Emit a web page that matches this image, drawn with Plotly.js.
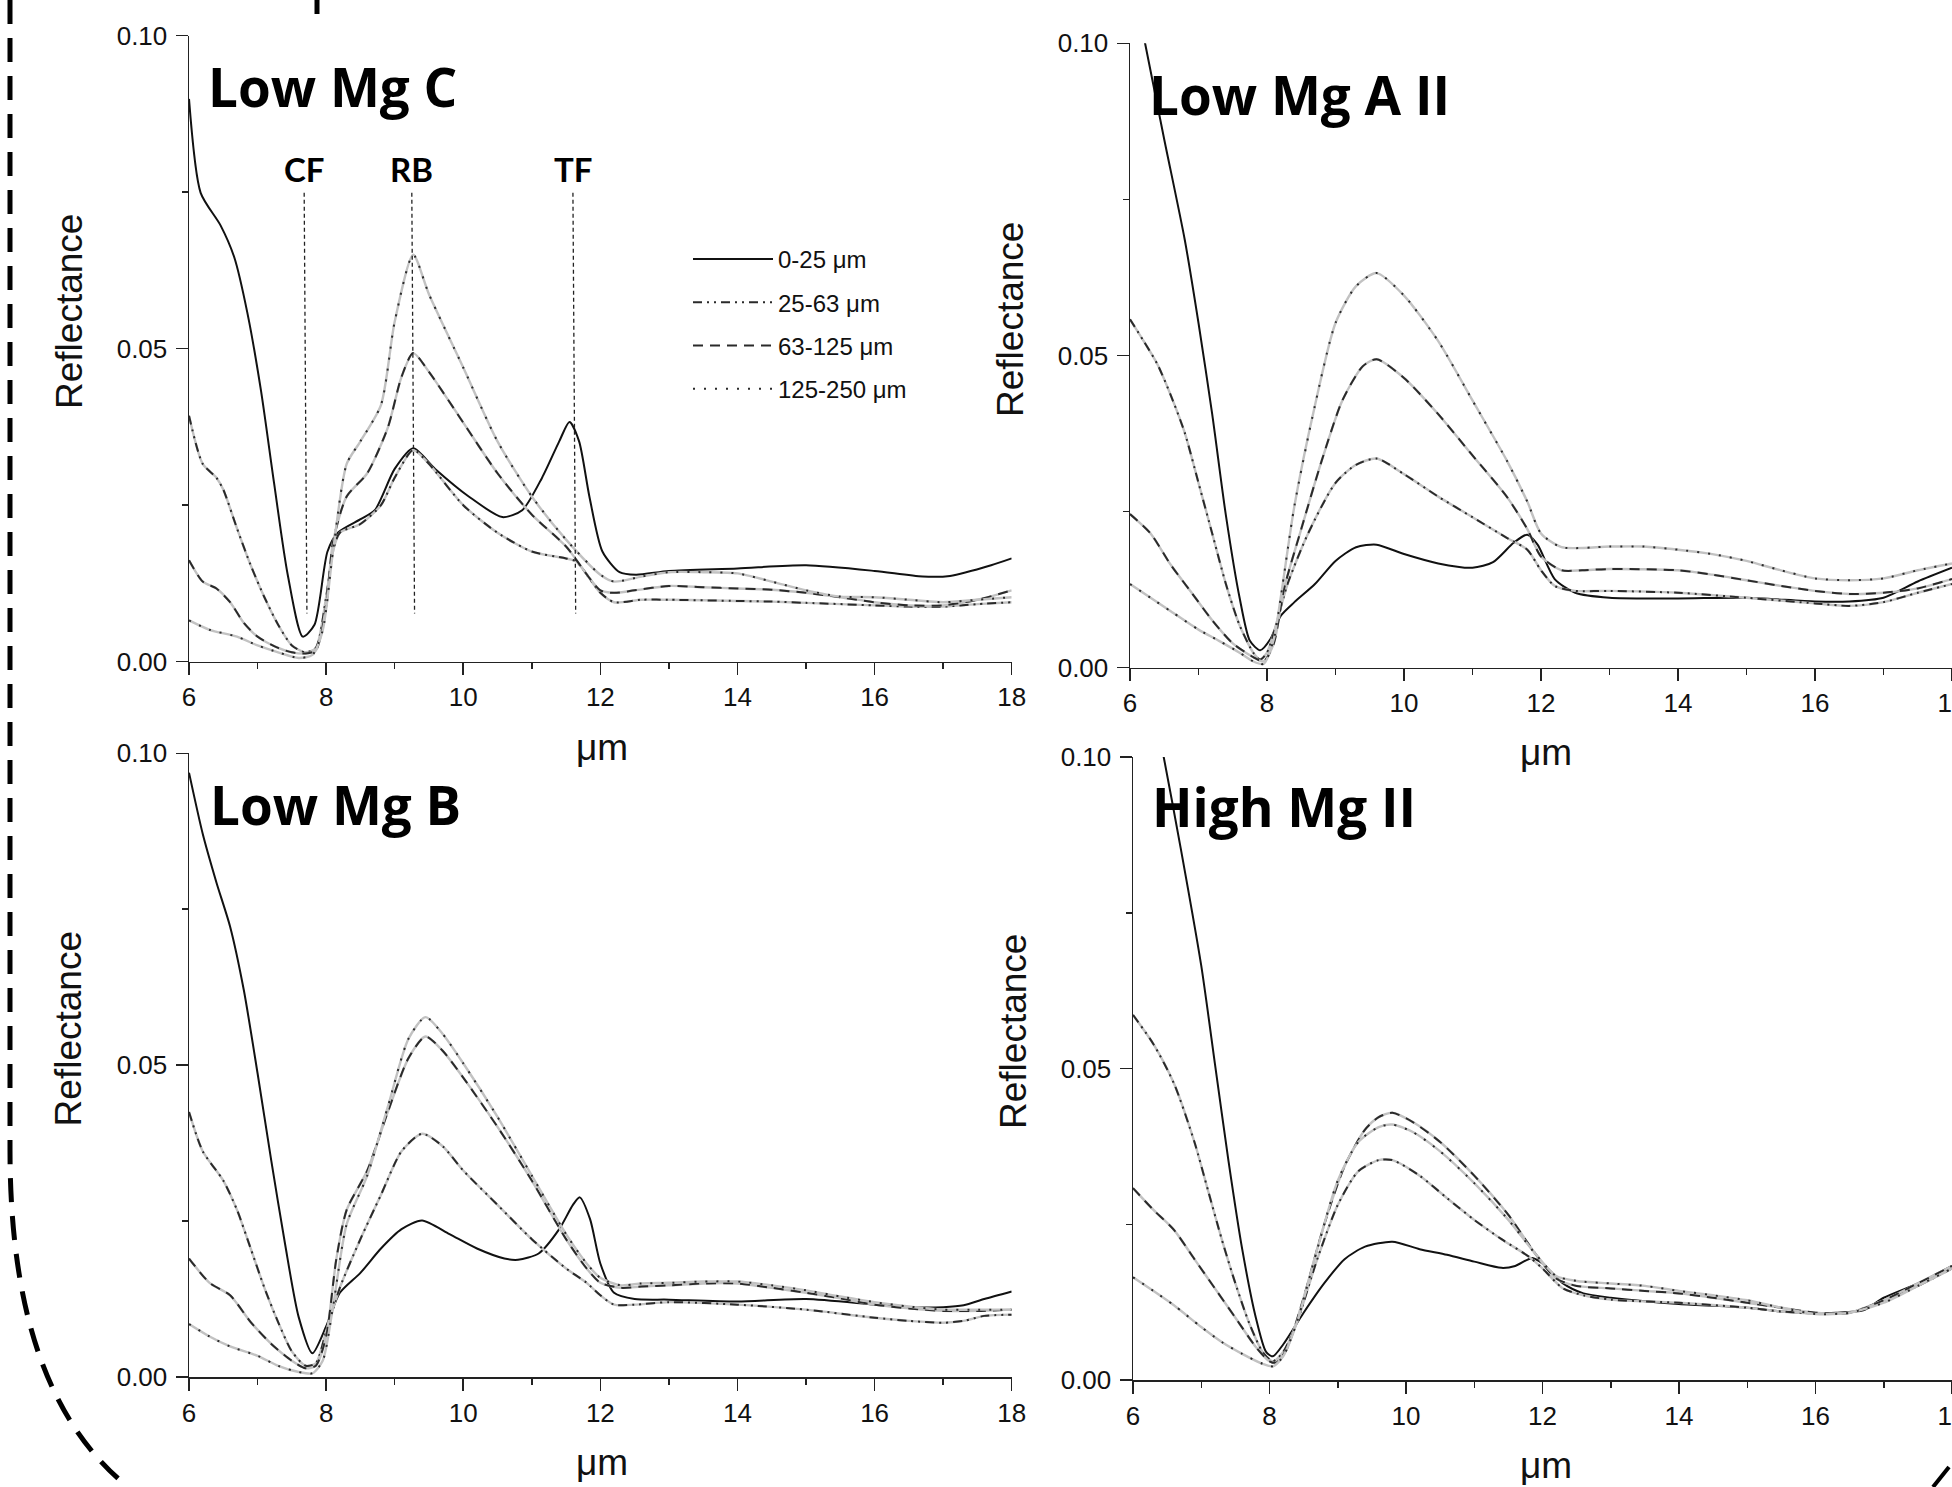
<!DOCTYPE html>
<html>
<head>
<meta charset="utf-8">
<script src="https://cdn.plot.ly/plotly-3.0.1.min.js"></script>
<style>html,body{margin:0;padding:0;background:#fff;}#chart{width:1952px;height:1487px;}</style>
</head>
<body>
<div id="chart"></div>
<script>
// ---------- DATA ----------
const seriesNames = ['0-25 μm', '25-63 μm', '63-125 μm', '125-250 μm'];
const panelTitles = ['Low Mg C', 'Low Mg A II', 'Low Mg B', 'High Mg II'];
const featureLabels = ['CF', 'RB', 'TF'];
const featureX = [7.68, 9.25, 11.6];
const featureTop = 0.0749;
const featureBottom = 0.0077;
const featureLabelY = 0.0787;

// Low Mg C
const cX0 = [6, 6.17, 6.46, 6.66, 6.85, 7.05, 7.24, 7.44, 7.66, 7.83, 8.02, 8.17, 8.51, 8.71, 9.0, 9.27, 9.59, 10.08, 10.57, 10.86, 11.15, 11.4, 11.55, 11.69, 11.84, 12.03, 12.28, 12.52, 13.0, 14.0, 15.0, 16.0, 16.7, 17.1, 17.7, 18];
const cY0 = [0.0899, 0.0749, 0.0697, 0.0646, 0.0558, 0.0433, 0.0286, 0.0139, 0.0040, 0.0059, 0.0176, 0.0206, 0.0228, 0.0242, 0.0308, 0.0341, 0.0308, 0.0264, 0.0231, 0.0242, 0.0294, 0.0352, 0.0383, 0.0352, 0.0264, 0.0176, 0.0143, 0.0139, 0.0145, 0.0149, 0.0154, 0.0145, 0.0136, 0.0137, 0.0154, 0.0165];
const cX1 = [6, 6.2, 6.4, 6.5, 6.7, 6.9, 7.1, 7.3, 7.5, 7.7, 7.85, 8.0, 8.1, 8.2, 8.5, 8.8, 9.0, 9.27, 9.5, 10.0, 10.5, 11.0, 11.5, 11.65, 12.0, 12.2, 12.6, 13.0, 14.0, 14.5, 15.0, 16.0, 16.5, 17.0, 17.5, 18.0];
const cY1 = [0.0393, 0.0316, 0.0294, 0.0275, 0.0213, 0.0154, 0.0103, 0.0059, 0.0026, 0.0015, 0.0022, 0.0103, 0.0176, 0.0206, 0.0220, 0.0250, 0.0294, 0.0338, 0.0316, 0.0250, 0.0206, 0.0176, 0.0165, 0.0160, 0.0110, 0.0095, 0.0099, 0.0099, 0.0097, 0.0096, 0.0094, 0.0090, 0.0088, 0.0088, 0.0092, 0.0095];
const cX2 = [6, 6.2, 6.4, 6.6, 6.8, 7.0, 7.3, 7.5, 7.7, 7.85, 8.0, 8.1, 8.3, 8.6, 8.9, 9.1, 9.27, 9.5, 10.0, 10.5, 11.0, 11.5, 12.0, 12.2, 12.5, 13.0, 13.5, 14.0, 14.5, 15.0, 15.5, 16.0, 16.5, 17.0, 17.5, 18.0];
const cY2 = [0.0162, 0.0128, 0.0117, 0.0095, 0.0062, 0.0040, 0.0022, 0.0015, 0.0013, 0.0018, 0.0088, 0.0191, 0.0264, 0.0301, 0.0374, 0.0455, 0.0493, 0.0463, 0.0382, 0.0301, 0.0235, 0.0184, 0.0114, 0.0110, 0.0114, 0.0121, 0.0119, 0.0117, 0.0115, 0.0110, 0.0103, 0.0095, 0.0090, 0.0090, 0.0099, 0.0114];
const cX3 = [6, 6.3, 6.7, 7.0, 7.3, 7.6, 7.8, 7.95, 8.1, 8.3, 8.5, 8.8, 9.0, 9.27, 9.5, 10.0, 10.5, 11.0, 11.5, 12.0, 12.2, 12.6, 13.0, 13.5, 14.0, 14.5, 15.0, 15.5, 16.0, 16.5, 17.0, 17.5, 18.0];
const cY3 = [0.0066, 0.0051, 0.0040, 0.0026, 0.0015, 0.0006, 0.0011, 0.0050, 0.0176, 0.0316, 0.0352, 0.0410, 0.0543, 0.0650, 0.0587, 0.0470, 0.0352, 0.0264, 0.0195, 0.0139, 0.0128, 0.0136, 0.0143, 0.0143, 0.0141, 0.0128, 0.0114, 0.0104, 0.0103, 0.0099, 0.0095, 0.0099, 0.0103];

// Low Mg A II
const aX0 = [6.0, 6.22, 6.5, 6.8, 7.0, 7.2, 7.4, 7.6, 7.75, 7.9, 8.05, 8.2, 8.4, 8.7, 9.0, 9.3, 9.6, 10.0, 10.5, 11.0, 11.3, 11.6, 11.8, 11.95, 12.2, 12.5, 13.0, 14.0, 15.0, 16.0, 16.5, 17.0, 17.5, 18.0];
const aY0 = [0.112, 0.1000, 0.0846, 0.0685, 0.0552, 0.0406, 0.0244, 0.0112, 0.0043, 0.0028, 0.0046, 0.0083, 0.0105, 0.0134, 0.0171, 0.0193, 0.0197, 0.0182, 0.0167, 0.0160, 0.0169, 0.0200, 0.0213, 0.0197, 0.0142, 0.0120, 0.0112, 0.0111, 0.0112, 0.0106, 0.0106, 0.0112, 0.0138, 0.0160];
const aX1 = [6.0, 6.2, 6.4, 6.6, 6.8, 7.0, 7.2, 7.4, 7.6, 7.8, 7.9, 8.0, 8.15, 8.3, 8.6, 9.0, 9.3, 9.6, 10.0, 10.5, 11.0, 11.5, 11.8, 12.0, 12.2, 12.5, 13.0, 14.0, 15.0, 16.0, 16.5, 17.0, 17.5, 18.0];
const aY1 = [0.0558, 0.0523, 0.0486, 0.0435, 0.0376, 0.0296, 0.0215, 0.0134, 0.0068, 0.0024, 0.0013, 0.0024, 0.0076, 0.0134, 0.0215, 0.0296, 0.0325, 0.0335, 0.0310, 0.0274, 0.0241, 0.0208, 0.0189, 0.0156, 0.0131, 0.0123, 0.0123, 0.0120, 0.0112, 0.0103, 0.0099, 0.0105, 0.0120, 0.0134];
const aX2 = [6.0, 6.3, 6.6, 6.9, 7.2, 7.5, 7.8, 7.95, 8.1, 8.25, 8.5, 8.8, 9.1, 9.4, 9.6, 10.0, 10.5, 11.0, 11.5, 11.8, 12.0, 12.3, 12.6, 13.0, 14.0, 14.5, 15.0, 15.5, 16.0, 16.5, 17.0, 17.5, 18.0];
const aY2 = [0.0246, 0.0215, 0.0164, 0.0120, 0.0076, 0.0039, 0.0017, 0.0010, 0.0039, 0.0127, 0.0222, 0.0332, 0.0428, 0.0483, 0.0494, 0.0464, 0.0406, 0.0340, 0.0274, 0.0222, 0.0178, 0.0156, 0.0156, 0.0158, 0.0156, 0.0149, 0.0140, 0.0131, 0.0123, 0.0118, 0.0120, 0.0127, 0.0142];
const aX3 = [6.0, 6.3, 6.6, 7.0, 7.3, 7.6, 7.8, 7.95, 8.1, 8.2, 8.4, 8.7, 9.0, 9.3, 9.6, 10.0, 10.5, 11.0, 11.5, 11.8, 12.0, 12.3, 13.0, 13.5, 14.0, 14.5, 15.0, 15.5, 16.0, 16.5, 17.0, 17.5, 18.0];
const aY3 = [0.0134, 0.0112, 0.0090, 0.0061, 0.0043, 0.0024, 0.0010, 0.0006, 0.0046, 0.0112, 0.0259, 0.0420, 0.0552, 0.0611, 0.0632, 0.0596, 0.0523, 0.0428, 0.0332, 0.0266, 0.0215, 0.0193, 0.0194, 0.0194, 0.0189, 0.0182, 0.0171, 0.0156, 0.0143, 0.0140, 0.0143, 0.0156, 0.0167];

// Low Mg B
const bX0 = [6.0, 6.2, 6.4, 6.6, 6.8, 7.0, 7.2, 7.4, 7.6, 7.8, 8.0, 8.2, 8.5, 8.8, 9.1, 9.4, 9.8, 10.2, 10.6, 10.8, 11.1, 11.4, 11.6, 11.7, 11.85, 12.0, 12.2, 12.5, 13.0, 14.0, 15.0, 16.0, 16.5, 17.0, 17.3, 17.6, 18.0];
const bY0 = [0.0969, 0.0871, 0.0793, 0.0722, 0.0620, 0.0487, 0.0347, 0.0214, 0.0096, 0.0038, 0.0081, 0.0135, 0.0167, 0.0206, 0.0237, 0.0251, 0.0229, 0.0206, 0.0190, 0.0188, 0.0198, 0.0237, 0.0276, 0.0288, 0.0253, 0.0182, 0.0135, 0.0125, 0.0124, 0.0121, 0.0125, 0.0116, 0.0112, 0.0112, 0.0115, 0.0125, 0.0137];
const bX1 = [6.0, 6.2, 6.5, 6.7, 6.9, 7.1, 7.3, 7.5, 7.7, 7.85, 8.0, 8.2, 8.5, 8.8, 9.1, 9.4, 9.7, 10.0, 10.5, 11.0, 11.5, 11.8, 12.0, 12.2, 12.5, 13.0, 14.0, 15.0, 16.0, 16.5, 17.0, 17.3, 17.6, 18.0];
const bY1 = [0.0425, 0.0362, 0.0315, 0.0268, 0.0206, 0.0143, 0.0088, 0.0041, 0.0018, 0.0022, 0.0073, 0.0143, 0.0221, 0.0292, 0.0362, 0.0390, 0.0370, 0.0331, 0.0276, 0.0221, 0.0174, 0.0151, 0.0131, 0.0116, 0.0116, 0.0120, 0.0116, 0.0108, 0.0095, 0.0090, 0.0087, 0.0090, 0.0098, 0.0100];
const bX2 = [6.0, 6.3, 6.6, 6.9, 7.2, 7.5, 7.7, 7.85, 8.0, 8.15, 8.3, 8.6, 8.9, 9.2, 9.45, 9.7, 10.0, 10.5, 11.0, 11.5, 11.8, 12.0, 12.3, 12.6, 13.0, 13.5, 14.0, 14.5, 15.0, 15.5, 16.0, 16.5, 17.0, 17.5, 18.0];
const bY2 = [0.0190, 0.0151, 0.0131, 0.0088, 0.0053, 0.0026, 0.0014, 0.0018, 0.0065, 0.0190, 0.0268, 0.0331, 0.0425, 0.0511, 0.0546, 0.0523, 0.0480, 0.0401, 0.0315, 0.0221, 0.0174, 0.0151, 0.0143, 0.0145, 0.0147, 0.0150, 0.0150, 0.0143, 0.0135, 0.0126, 0.0116, 0.0110, 0.0106, 0.0106, 0.0108];
const bX3 = [6.0, 6.3, 6.6, 7.0, 7.3, 7.6, 7.8, 7.95, 8.1, 8.3, 8.6, 8.9, 9.2, 9.45, 9.7, 10.0, 10.5, 11.0, 11.5, 11.8, 12.0, 12.3, 12.6, 13.0, 13.5, 14.0, 14.5, 15.0, 15.5, 16.0, 16.5, 17.0, 17.5, 18.0];
const bY3 = [0.0085, 0.0065, 0.0049, 0.0034, 0.0018, 0.0008, 0.0006, 0.0026, 0.0112, 0.0245, 0.0323, 0.0433, 0.0542, 0.0577, 0.0550, 0.0503, 0.0417, 0.0323, 0.0229, 0.0182, 0.0159, 0.0147, 0.0150, 0.0151, 0.0153, 0.0153, 0.0147, 0.0139, 0.0129, 0.0120, 0.0113, 0.0108, 0.0108, 0.0108];

// High Mg II
const hX0 = [6.0, 6.45, 6.7, 7.0, 7.2, 7.4, 7.6, 7.8, 7.95, 8.05, 8.2, 8.5, 8.8, 9.1, 9.4, 9.8, 10.2, 10.6, 11.0, 11.4, 11.6, 11.85, 12.0, 12.3, 12.6, 13.0, 14.0, 15.0, 15.5, 16.0, 16.3, 16.7, 17.0, 17.5, 18.0];
const hY0 = [0.125, 0.100, 0.0853, 0.0665, 0.0508, 0.0351, 0.0210, 0.0100, 0.0045, 0.0038, 0.0057, 0.0108, 0.0155, 0.0194, 0.0214, 0.0222, 0.0210, 0.0201, 0.0190, 0.0180, 0.0183, 0.0196, 0.0187, 0.0155, 0.0139, 0.0132, 0.0122, 0.0116, 0.0110, 0.0107, 0.0108, 0.0112, 0.0132, 0.0155, 0.0183];
const hX1 = [6.0, 6.3, 6.6, 6.9, 7.1, 7.3, 7.5, 7.7, 7.9, 8.05, 8.2, 8.4, 8.7, 9.0, 9.3, 9.6, 9.8, 10.2, 10.6, 11.0, 11.4, 11.8, 12.0, 12.3, 12.6, 13.0, 14.0, 15.0, 15.5, 16.0, 16.5, 17.0, 17.5, 18.0];
const hY1 = [0.0586, 0.0539, 0.0476, 0.0382, 0.0304, 0.0226, 0.0155, 0.0092, 0.0045, 0.0030, 0.0045, 0.0092, 0.0194, 0.0281, 0.0335, 0.0353, 0.0353, 0.0328, 0.0292, 0.0257, 0.0226, 0.0198, 0.0179, 0.0147, 0.0136, 0.0129, 0.0124, 0.0116, 0.0110, 0.0107, 0.0108, 0.0128, 0.0151, 0.0179];
const hX2 = [6.0, 6.3, 6.6, 6.9, 7.2, 7.5, 7.8, 8.0, 8.1, 8.25, 8.5, 8.8, 9.1, 9.4, 9.6, 9.8, 10.1, 10.5, 11.0, 11.5, 11.9, 12.2, 12.5, 13.0, 13.5, 14.0, 14.5, 15.0, 15.5, 16.0, 16.5, 17.0, 17.5, 18.0];
const hY2 = [0.0308, 0.0273, 0.0241, 0.0194, 0.0147, 0.0100, 0.0053, 0.0030, 0.0028, 0.0049, 0.0132, 0.0249, 0.0343, 0.0402, 0.0422, 0.0429, 0.0414, 0.0382, 0.0328, 0.0265, 0.0202, 0.0163, 0.0151, 0.0147, 0.0143, 0.0139, 0.0132, 0.0124, 0.0116, 0.0108, 0.0108, 0.0128, 0.0155, 0.0183];
const hX3 = [6.0, 6.3, 6.6, 7.0, 7.3, 7.6, 7.9, 8.05, 8.2, 8.4, 8.7, 9.0, 9.3, 9.6, 9.8, 10.1, 10.5, 11.0, 11.5, 11.9, 12.2, 12.5, 13.0, 13.5, 14.0, 14.5, 15.0, 15.5, 16.0, 16.5, 17.0, 17.5, 18.0];
const hY3 = [0.0165, 0.0143, 0.0120, 0.0085, 0.0061, 0.0042, 0.0026, 0.0022, 0.0038, 0.0092, 0.0210, 0.0320, 0.0382, 0.0406, 0.0410, 0.0398, 0.0367, 0.0316, 0.0257, 0.0202, 0.0167, 0.0159, 0.0155, 0.0151, 0.0143, 0.0136, 0.0128, 0.0116, 0.0106, 0.0108, 0.0124, 0.0151, 0.0179];

const xTickVals = [6, 8, 10, 12, 14, 16, 18];
const yTickVals = [0, 0.05, 0.10];

// ---------- BUILD ----------
const panelData = [
  {xs: [cX0, cX1, cX2, cX3], ys: [cY0, cY1, cY2, cY3], xa: 'x',  ya: 'y'},
  {xs: [aX0, aX1, aX2, aX3], ys: [aY0, aY1, aY2, aY3], xa: 'x2', ya: 'y2'},
  {xs: [bX0, bX1, bX2, bX3], ys: [bY0, bY1, bY2, bY3], xa: 'x3', ya: 'y3'},
  {xs: [hX0, hX1, hX2, hX3], ys: [hY0, hY1, hY2, hY3], xa: 'x4', ya: 'y4'}
];
const dashes = ['solid', '9px,5px,2px,5px,2px,5px', '10px,7px', '2px,9px'];

const traces = [];
panelData.forEach((p, pi) => {
  for (let i = 0; i < 4; i++) {
    if (i > 0) {
      traces.push({
        type: 'scatter', mode: 'lines', x: p.xs[i], y: p.ys[i], xaxis: p.xa, yaxis: p.ya,
        line: {color: '#c2c2c2', width: 2.4, shape: 'spline', smoothing: 0.7},
        showlegend: false, legendgroup: 'g' + i, hoverinfo: 'skip'
      });
    }
    traces.push({
      type: 'scatter', mode: 'lines', name: seriesNames[i], x: p.xs[i], y: p.ys[i], xaxis: p.xa, yaxis: p.ya,
      line: {color: i === 0 ? '#111' : '#2a2a2a', width: 2, dash: dashes[i], shape: 'spline', smoothing: 0.7},
      showlegend: pi === 0, legendgroup: 'g' + i
    });
  }
});

const W = 1952, H = 1487;
const px = v => v / W;
const py = v => 1 - v / H;

const tickFont = {family: 'Liberation Sans, Arial, sans-serif', size: 26, color: '#111'};
function xAxis(d0, d1, anchor) {
  return {domain: [d0, d1], anchor: anchor, range: [6, 18], tickvals: xTickVals, ticks: 'outside', ticklen: 12, tickwidth: 1.5,
    tickcolor: '#222', showline: true, linecolor: '#222', linewidth: 1.5, showgrid: false, zeroline: false, tickfont: tickFont,
    ticklabeloverflow: 'allow',
    minor: {tickvals: [7, 9, 11, 13, 15, 17], ticks: 'outside', ticklen: 6, tickwidth: 1.5, tickcolor: '#222', showgrid: false},
    fixedrange: true};
}
function yAxis(d0, d1, anchor) {
  return {domain: [d0, d1], anchor: anchor, range: [0, 0.1], tickvals: yTickVals, tickformat: '.2f', ticks: 'outside', ticklen: 12, tickwidth: 1.5,
    tickcolor: '#222', showline: true, linecolor: '#222', linewidth: 1.5, showgrid: false, zeroline: false, tickfont: tickFont,
    ticklabelstandoff: 3, ticklabeloverflow: 'allow',
    minor: {tickvals: [0.025, 0.075], ticks: 'outside', ticklen: 6, tickwidth: 1.5, tickcolor: '#222', showgrid: false},
    fixedrange: true};
}

const titleFont = {family: 'Open Sans, Noto Sans, sans-serif', size: 53, color: '#000', weight: 700};
const axTitleFont = {family: 'Liberation Sans, Arial, sans-serif', size: 37, color: '#111'};
const annotations = [];
const titlePos = [[206, 86.4], [1147, 94.2], [208, 804.9], [1150, 806.7]];
panelTitles.forEach((t, i) => annotations.push({text: t, xref: 'paper', yref: 'paper', x: px(titlePos[i][0]), y: py(titlePos[i][1]),
  xanchor: 'left', yanchor: 'middle', showarrow: false, font: titleFont}));
const reflPos = [[70, 312], [1010, 320], [68.4, 1029], [1013, 1032]];
reflPos.forEach(p => annotations.push({text: 'Reflectance', xref: 'paper', yref: 'paper', x: px(p[0]), y: py(p[1]), textangle: -90,
  xanchor: 'center', yanchor: 'middle', showarrow: false, font: axTitleFont}));
const umPos = [[602, 747], [1546, 752], [602, 1462], [1546, 1465]];
umPos.forEach(p => annotations.push({text: 'μm', xref: 'paper', yref: 'paper', x: px(p[0]), y: py(p[1]),
  xanchor: 'center', yanchor: 'middle', showarrow: false, font: axTitleFont}));
featureLabels.forEach((t, i) => annotations.push({text: '<b>' + t + '</b>', xref: 'x', yref: 'y', x: featureX[i], y: featureLabelY,
  xanchor: 'center', yanchor: 'middle', showarrow: false, font: {family: 'Lato, Calibri, sans-serif', size: 33, color: '#000'}}));

const shapes = featureX.map(fx => ({type: 'line', xref: 'x', yref: 'y', x0: fx, x1: fx + 0.04, y0: featureTop, y1: featureBottom,
  line: {color: '#222', width: 1.3, dash: '4px,3px'}}));
// figure border decorations (cropped frame of the source figure)
shapes.push({type: 'path', xref: 'paper', yref: 'paper',
  path: `M ${px(10)} ${py(0)} L ${px(10)} ${py(1150)} C ${px(10)} ${py(1330)} ${px(58)} ${py(1430)} ${px(128)} ${py(1487)}`,
  line: {color: '#000', width: 5, dash: '24px,14px'}});
shapes.push({type: 'line', xref: 'paper', yref: 'paper', x0: px(317), x1: px(317), y0: py(0), y1: py(14), line: {color: '#000', width: 5}});
shapes.push({type: 'line', xref: 'paper', yref: 'paper', x0: px(1933), x1: px(1949), y0: py(1487), y1: py(1467), line: {color: '#000', width: 4}});

const layout = {
  width: W, height: H, margin: {l: 0, r: 0, t: 0, b: 0, pad: 0},
  paper_bgcolor: '#fff', plot_bgcolor: 'rgba(0,0,0,0)',
  showlegend: true,
  legend: {x: px(688), y: py(237), xanchor: 'left', yanchor: 'top', bgcolor: 'rgba(0,0,0,0)', borderwidth: 0,
    font: {family: 'Liberation Sans, Arial, sans-serif', size: 24, color: '#111'}, tracegroupgap: 9, itemwidth: 80, traceorder: 'grouped'},
  xaxis: xAxis(px(189), px(1011.7), 'y'),
  yaxis: yAxis(py(661.7), py(35.7), 'x'),
  xaxis2: xAxis(px(1130), 1, 'y2'),
  yaxis2: yAxis(py(667.7), py(43.3), 'x2'),
  xaxis3: xAxis(px(189), px(1011.7), 'y3'),
  yaxis3: yAxis(py(1377), py(753.3), 'x3'),
  xaxis4: xAxis(px(1133), 1, 'y4'),
  yaxis4: yAxis(py(1380), py(757), 'x4'),
  annotations: annotations,
  shapes: shapes
};

Plotly.newPlot('chart', traces, layout, {displayModeBar: false, staticPlot: true});
</script>
</body>
</html>
